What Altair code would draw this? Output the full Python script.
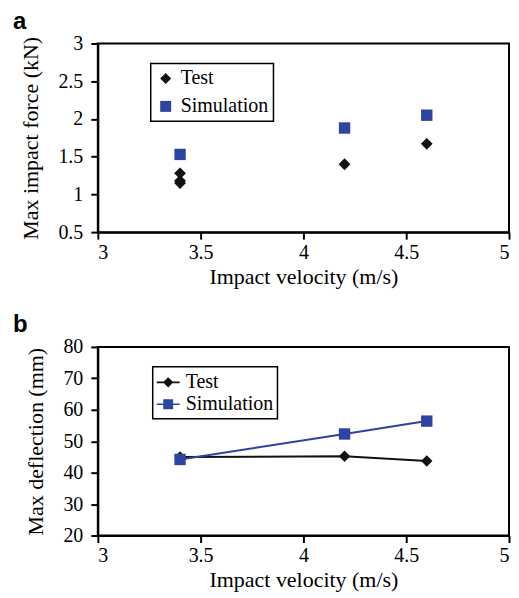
import altair as alt
import pandas as pd

series_names = ["Test", "Simulation"]
series_colors = ["#111111", "#2D44A0"]

# Panel a: max impact force (kN)
test_velocity_a = [3.4, 3.4, 3.4, 4.2, 4.6]
test_force = [1.28, 1.18, 1.15, 1.40, 1.67]
sim_velocity_a = [3.4, 4.2, 4.6]
sim_force = [1.53, 1.88, 2.05]

# Panel b: max deflection (mm)
test_velocity_b = [3.4, 4.2, 4.6]
test_deflection = [45.0, 45.2, 43.7]
sim_velocity_b = [3.4, 4.2, 4.6]
sim_deflection = [44.2, 52.3, 56.4]

x_ticks = [3, 3.5, 4, 4.5, 5]
force_ticks = [0.5, 1, 1.5, 2, 2.5, 3]
deflection_ticks = [20, 30, 40, 50, 60, 70, 80]

SERIF = "Liberation Serif"
W, H = 412, 189

df_a_test = pd.DataFrame({"velocity": test_velocity_a, "value": test_force, "series": "Test"})
df_a_sim = pd.DataFrame({"velocity": sim_velocity_a, "value": sim_force, "series": "Simulation"})
df_b_test = pd.DataFrame({"velocity": test_velocity_b, "value": test_deflection, "series": "Test"})
df_b_sim = pd.DataFrame({"velocity": sim_velocity_b, "value": sim_deflection, "series": "Simulation"})

x_enc = alt.X("velocity:Q", scale=alt.Scale(domain=[3, 5], nice=False, zero=False),
              axis=alt.Axis(values=x_ticks, format="~g", title="Impact velocity (m/s)"))


def y_enc(domain, ticks, title, fmt):
    return alt.Y("value:Q", scale=alt.Scale(domain=domain, nice=False, zero=False),
                 axis=alt.Axis(values=ticks, format=fmt, title=title))


def legend_layer(df, shapes, size, lx, ly, sym_offset, label_offset, row_pad, pad):
    leg = dict(title=None, orient="none", legendX=lx, legendY=ly,
               labelFont=SERIF, labelFontSize=20, labelColor="black",
               symbolSize=size, symbolOffset=sym_offset,
               labelOffset=label_offset, rowPadding=row_pad,
               padding=pad, strokeColor="black", symbolStrokeWidth=0)
    return alt.Chart(df).transform_filter("false").mark_point(filled=True, opacity=1).encode(
        color=alt.Color("series:N", scale=alt.Scale(domain=series_names, range=series_colors),
                        legend=alt.Legend(**leg)),
        shape=alt.Shape("series:N", scale=alt.Scale(domain=series_names, range=shapes),
                        legend=alt.Legend(**leg)),
    )


def panel_title(t):
    return alt.TitleParams(t, anchor="start", frame="group", font="Liberation Sans", fontSize=24,
                           fontWeight="bold", color="black", dx=-85, offset=0)


# ---- panel a
ya = y_enc([0.5, 3], force_ticks, "Max impact force (kN)", "~g")
a_test = alt.Chart(df_a_test).mark_point(filled=True, opacity=1, shape="diamond", size=140,
                                          color=series_colors[0]).encode(x=x_enc, y=ya)
a_sim = alt.Chart(df_a_sim).mark_point(filled=True, opacity=1, shape="square", size=130,
                                        color=series_colors[1]).encode(x=x_enc, y=ya)
a_leg = legend_layer(df_a_test, ["diamond", "square"], 121, 53, 20, 0, 5, 8, 5)
panel_a = alt.layer(a_test, a_sim, a_leg).properties(width=W, height=H, title=panel_title("a"))

# ---- panel b
yb = y_enc([20, 80], deflection_ticks, "Max deflection (mm)", "d")
b_test_line = alt.Chart(df_b_test).mark_line(color=series_colors[0], strokeWidth=2).encode(x=x_enc, y=yb)
b_test_pts = alt.Chart(df_b_test).mark_point(filled=True, opacity=1, shape="diamond", size=130,
                                             color=series_colors[0]).encode(x=x_enc, y=yb)
b_sim_line = alt.Chart(df_b_sim).mark_line(color=series_colors[1], strokeWidth=2).encode(x=x_enc, y=yb)
b_sim_pts = alt.Chart(df_b_sim).mark_point(filled=True, opacity=1, shape="square", size=130,
                                           color=series_colors[1]).encode(x=x_enc, y=yb)
line_diamond = "M-1,-0.07L1,-0.07L1,0.07L-1,0.07Z M0,-0.45L0.45,0L0,0.45L-0.45,0Z"
line_square = "M-1,-0.07L1,-0.07L1,0.07L-1,0.07Z M-0.43,-0.43L0.43,-0.43L0.43,0.43L-0.43,0.43Z"
b_leg = legend_layer(df_b_test, [line_diamond, line_square], 529, 55, 20, 0, 6, 0, 4)
panel_b = alt.layer(b_test_line, b_test_pts, b_sim_line, b_sim_pts, b_leg).properties(
    width=W, height=H, title=panel_title("b"))

chart = alt.vconcat(panel_a, panel_b, spacing=24).resolve_scale(
    color="independent", shape="independent"
).resolve_legend(color="independent", shape="independent").properties(
    padding={"left": 4, "top": 0, "right": 0, "bottom": 0}
).configure_view(stroke="black", strokeWidth=2).configure_axis(
    labelFont=SERIF, labelFontSize=20, labelColor="black",
    titleFont=SERIF, titleFontSize=22, titleFontWeight="normal", titleColor="black",
    domainColor="black", domainWidth=2, tickColor="black", tickWidth=2, tickSize=7,
    grid=False,
).configure_axisY(titlePadding=15, labelPadding=8).configure_axisX(
    titlePadding=4, labelPadding=3
).configure_legend(strokeWidth=1.5)

chart.save("out.html", embed_options={"renderer": "svg", "actions": False})
